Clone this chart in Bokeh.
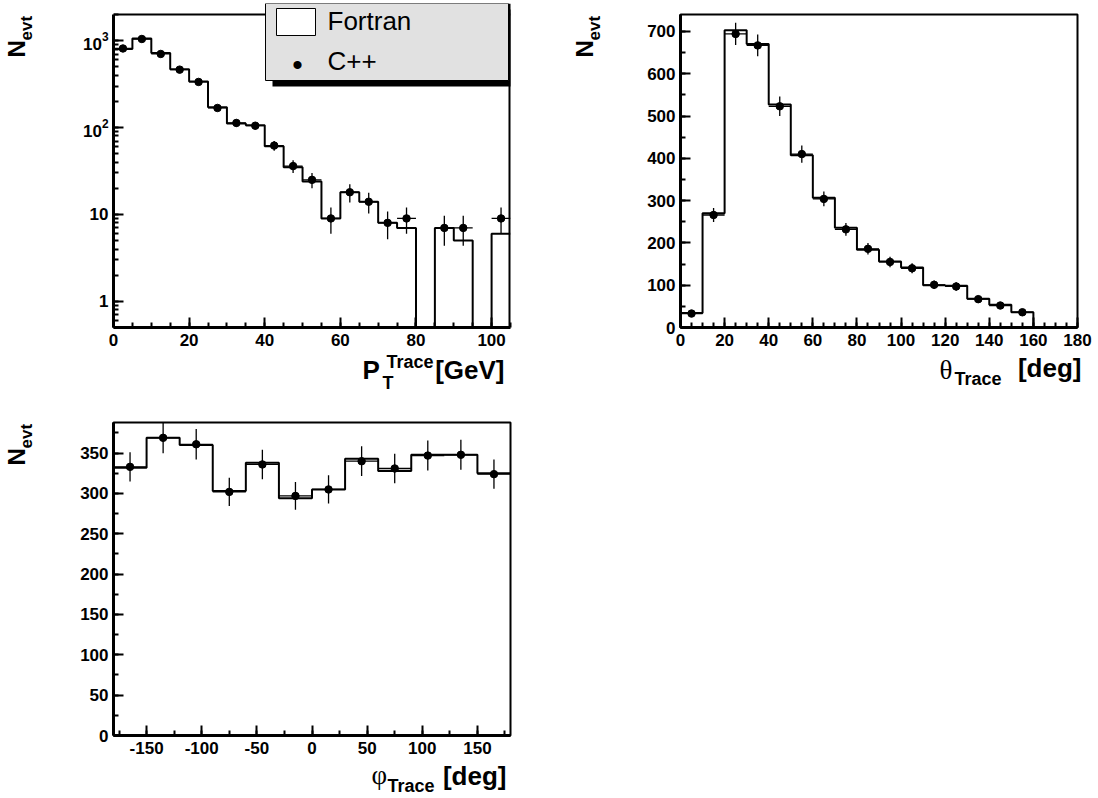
import numpy as np
from bokeh.plotting import figure
from bokeh.models import (Range1d, SingleIntervalTicker, LogTicker, LogTickFormatter, Label,
                          BoxAnnotation, Span, PrintfTickFormatter)
from bokeh.layouts import row, column
from bokeh.embed import file_html
from bokeh.resources import INLINE

# ---------------- data ----------------
pt_edges = list(range(0, 110, 5))
pt_fortran = [800, 1060, 720, 470, 338, 171, 111, 106, 61, 35, 24, 9, 18, 14, 8, 7, 0, 7, 5, 0, 6]
pt_cpp = [813, 1045, 703, 464, 335, 168, 113, 105, 62, 36, 25, 9, 18, 14, 8, 9, 0, 7, 7, 0, 9]

theta_edges = list(range(0, 190, 10))
theta_fortran = [34, 270, 703, 670, 527, 407, 307, 236, 184, 156, 142, 100, 99, 68, 54, 36, 0, 0]
theta_cpp = [33, 266, 694, 667, 523, 410, 304, 232, 186, 155, 140, 101, 97, 67, 52, 36, 0, 0]

phi_edges = list(range(-180, 210, 30))
phi_fortran = [332, 369, 360, 303, 338, 294, 305, 343, 328, 348, 348, 325]
phi_cpp = [333, 369, 361, 302, 336, 297, 305, 340, 331, 347, 348, 324]

legend_labels = ["Fortran", "C++"]

FONT = "Liberation Sans"
SERIF = "Liberation Serif"


def make_fig(width, height, xr, yr, bl, br, bt, bb, ytype="linear"):
    p = figure(width=width, height=height, x_range=Range1d(*xr), y_range=Range1d(*yr),
               y_axis_type=ytype, output_backend="svg", toolbar_location=None,
               min_border_left=bl, min_border_right=br, min_border_top=bt, min_border_bottom=bb)
    p.frame_align = False
    p.grid.visible = False
    p.outline_line_color = "black"
    p.outline_line_width = 2
    p.background_fill_color = "white"
    p.border_fill_color = "white"
    for ax in p.axis:
        ax.axis_line_width = 3
        ax.axis_line_color = "black"
        ax.major_tick_in = 10
        ax.major_tick_out = 0
        ax.minor_tick_in = 5
        ax.minor_tick_out = 0
        ax.major_tick_line_width = 2
        ax.minor_tick_line_width = 2
        ax.major_tick_line_color = "black"
        ax.minor_tick_line_color = "black"
        ax.major_label_text_font = FONT
        ax.major_label_text_font_style = "bold"
        ax.major_label_text_font_size = "17px"
        ax.major_label_text_color = "black"
    p.xaxis.major_label_standoff = 6
    p.yaxis.major_label_standoff = 5
    p.xaxis.formatter = PrintfTickFormatter(format="%d")
    if ytype == "linear":
        p.yaxis.formatter = PrintfTickFormatter(format="%d")
    return p


def label_fig(w, h):
    f = figure(width=w, height=h, x_range=Range1d(0, 1), y_range=Range1d(0, 1),
               output_backend="svg", toolbar_location=None, min_border=0,
               x_axis_location=None, y_axis_location=None)
    f.frame_align = False
    f.grid.visible = False
    f.outline_line_color = None
    f.background_fill_color = "white"
    f.border_fill_color = "white"
    return f


def draw_hist(p, edges, fortran, cpp, floor):
    e = np.asarray(edges, float)
    f = np.asarray(fortran, float)
    c = np.asarray(cpp, float)
    xs = np.repeat(e, 2)[1:-1]
    ys = np.repeat(np.where(f > 0, f, floor), 2)
    p.line(xs, ys, line_color="black", line_width=2)
    m = c > 0
    lo = e[:-1][m]
    hi = e[1:][m]
    ctr = (lo + hi) / 2
    cv = c[m]
    err = np.sqrt(cv)
    p.segment(x0=lo, y0=cv, x1=hi, y1=cv, line_color="black", line_width=1.3)
    p.segment(x0=ctr, y0=cv - err, x1=ctr, y1=cv + err, line_color="black", line_width=1.3)
    p.scatter(ctr, cv, size=7.5, fill_color="black", line_color="black")


def txt(p, s, x, y, size, bold=True, font=FONT, angle=0.0, align="left"):
    p.add_layout(Label(x=x, y=y, x_units="screen", y_units="screen", text=s,
                       text_font=font, text_font_size=f"{size}px",
                       text_font_style="bold" if bold else "normal",
                       text_color="black", angle=angle, text_align=align,
                       text_baseline="alphabetic", level="overlay"))


def box(p, l, r, t, b, fill, line):
    p.add_layout(BoxAnnotation(left=l, right=r, top=t, bottom=b,
                               left_units="screen", right_units="screen",
                               top_units="screen", bottom_units="screen",
                               fill_color=fill, fill_alpha=1.0,
                               line_color=line, line_width=1, line_alpha=1.0,
                               level="overlay"))


def nevt(f):
    txt(f, "N", 16, 295, 24, angle=np.pi / 2)
    txt(f, "evt", 26, 312, 17, angle=np.pi / 2)


# ---------------- PT (log) ----------------
YMIN, YMAX = 0.5, 2000
ext = (YMAX / YMIN) ** (11 / 313)          # frame extended 11 px upward for the legend
p1 = make_fig(523, 352, (0, 105), (YMIN, YMAX * ext), 68, 58, 3, 25, ytype="log")
p1.outline_line_color = None
p1.xaxis.ticker = SingleIntervalTicker(interval=20, num_minor_ticks=4)
p1.yaxis.ticker = LogTicker(num_minor_ticks=10)
p1.yaxis.formatter = LogTickFormatter(min_exponent=2)
p1.yaxis.bounds = (YMIN, YMAX)
p1.add_layout(Span(location=YMAX, dimension="width", line_color="black", line_width=2))
p1.add_layout(Span(location=105, dimension="height", line_color="black", line_width=4))
draw_hist(p1, pt_edges, pt_fortran, pt_cpp, 1e-3)

# legend (frame-relative screen units)
box(p1, 159, 399, 318, 241, "black", None)
box(p1, 152, 395, 324, 247, "#e1e1e1", "black")
box(p1, 163, 202, 319, 292, "white", "black")
txt(p1, legend_labels[0], 214, 307, 26, bold=False)
txt(p1, legend_labels[1], 214, 267, 26, bold=False)
txt(p1, "\u2022", 184, 263, 30, bold=False, align="center")

ylab1 = label_fig(45, 352)
nevt(ylab1)
xlab1 = label_fig(568, 56)
txt(xlab1, "P", 362, 39, 26)
txt(xlab1, "T", 382, 26, 18)
txt(xlab1, "Trace", 386, 47, 18)
txt(xlab1, "[GeV]", 504, 39, 26, align="right")

# ---------------- theta ----------------
p2 = make_fig(483, 352, (0, 180), (0, 740), 67, 19, 14, 25)
p2.xaxis.ticker = SingleIntervalTicker(interval=20, num_minor_ticks=4)
p2.yaxis.ticker = SingleIntervalTicker(interval=100, num_minor_ticks=2)
draw_hist(p2, theta_edges, theta_fortran, theta_cpp, 0)

ylab2 = label_fig(45, 352)
nevt(ylab2)
xlab2 = label_fig(528, 56)
txt(xlab2, "\u03b8", 371, 39, 27, bold=False, font=SERIF)
txt(xlab2, "Trace", 386, 30, 18)
txt(xlab2, "[deg]", 513, 41, 26, align="right")

# ---------------- phi ----------------
p3 = make_fig(523, 352, (-180, 180), (0, 388), 68, 58, 14, 25)
p3.xaxis.ticker = SingleIntervalTicker(interval=50, num_minor_ticks=2)
p3.yaxis.ticker = SingleIntervalTicker(interval=50, num_minor_ticks=2)
draw_hist(p3, phi_edges, phi_fortran, phi_cpp, 0)

ylab3 = label_fig(45, 352)
nevt(ylab3)
xlab3 = label_fig(568, 36)
txt(xlab3, "\u03c6", 371, 22, 27, bold=False, font=SERIF)
txt(xlab3, "Trace", 387, 11, 18)
txt(xlab3, "[deg]", 506, 21, 26, align="right")

panel1 = column(row(ylab1, p1), xlab1)
panel2 = column(row(ylab2, p2), xlab2)
panel3 = column(row(ylab3, p3), xlab3)
layout = column(row(panel1, panel2), panel3)
open("out.html", "w").write(file_html(layout, INLINE))
